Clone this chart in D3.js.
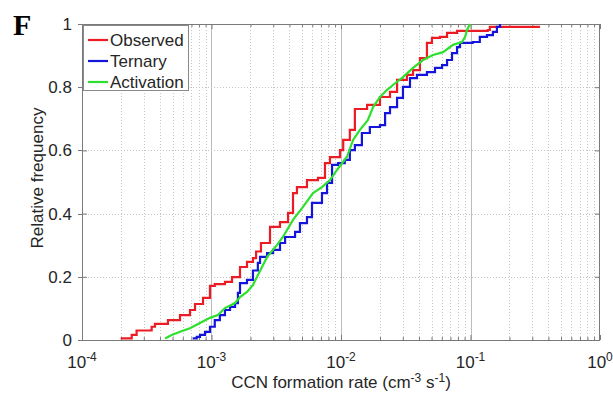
<!DOCTYPE html>
<html>
<head>
<meta charset="utf-8">
<script src="https://cdn.jsdelivr.net/npm/d3@7"></script>
<style>
  body { margin: 0; background: #fff; }
  svg { display: block; }
  text { font-family: Arial, "Liberation Sans", sans-serif; }
</style>
</head>
<body>
<svg id="chart" width="613" height="396"></svg>
<script>
// Empirical cumulative distributions of CCN formation rate (cm^-3 s^-1)
const seriesNames = ["Observed", "Ternary", "Activation"];

const observedRate = [1.99e-4, 2.42e-4, 2.64e-4, 3.45e-4, 3.66e-4, 4.61e-4, 5.71e-4, 6.82e-4, 7.46e-4, 8.60e-4,
  9.73e-4, 1.06e-3, 1.27e-3, 1.44e-3, 1.66e-3, 1.88e-3, 2.09e-3, 2.21e-3, 2.41e-3, 2.83e-3,
  3.38e-3, 3.90e-3, 4.26e-3, 4.57e-3, 5.46e-3, 6.64e-3, 7.52e-3, 8.22e-3, 9.82e-3, 1.04e-2,
  1.17e-2, 1.28e-2, 1.59e-2, 2.00e-2, 2.39e-2, 2.71e-2, 3.23e-2, 3.60e-2, 4.07e-2, 4.61e-2,
  5.04e-2, 5.81e-2, 6.59e-2, 7.87e-2, 0.136, 0.141, 0.344];
const observedFreq = [0.005, 0.016, 0.030, 0.042, 0.051, 0.063, 0.079, 0.095, 0.114, 0.133,
  0.171, 0.177, 0.184, 0.199, 0.231, 0.247, 0.259, 0.280, 0.307, 0.358,
  0.373, 0.402, 0.465, 0.484, 0.506, 0.513, 0.560, 0.579, 0.601, 0.633,
  0.665, 0.731, 0.744, 0.769, 0.785, 0.823, 0.839, 0.854, 0.892, 0.940,
  0.956, 0.959, 0.972, 0.978, 0.981, 0.991, 0.991];

const ternaryRate = [7.19e-4, 7.69e-4, 8.15e-4, 8.91e-4, 9.73e-4, 1.06e-3, 1.16e-3, 1.27e-3, 1.39e-3, 1.52e-3,
  1.60e-3, 1.66e-3, 1.88e-3, 2.09e-3, 2.28e-3, 2.37e-3, 2.69e-3, 2.99e-3, 3.38e-3, 3.70e-3,
  4.42e-3, 4.82e-3, 5.46e-3, 5.97e-3, 7.13e-3, 7.80e-3, 8.53e-3, 9.49e-3, 1.07e-2, 1.17e-2,
  1.28e-2, 1.45e-2, 1.67e-2, 2.00e-2, 2.19e-2, 2.39e-2, 2.71e-2, 3.01e-2, 3.41e-2, 3.86e-2,
  4.61e-2, 5.32e-2, 6.03e-2, 6.59e-2, 7.20e-2, 7.87e-2, 8.30e-2, 0.104, 0.118, 0.134,
  0.149, 0.160, 0.169];
const ternaryFreq = [0.005, 0.010, 0.016, 0.026, 0.042, 0.063, 0.079, 0.095, 0.105, 0.117,
  0.149, 0.180, 0.190, 0.220, 0.244, 0.263, 0.275, 0.285, 0.307, 0.326,
  0.342, 0.370, 0.389, 0.434, 0.465, 0.497, 0.554, 0.560, 0.570, 0.601,
  0.617, 0.655, 0.674, 0.680, 0.718, 0.737, 0.766, 0.801, 0.829, 0.839,
  0.848, 0.861, 0.870, 0.886, 0.908, 0.927, 0.940, 0.943, 0.959, 0.965,
  0.975, 0.991, 1.000];

const activationRate = [4.38e-4, 4.93e-4, 5.71e-4, 6.82e-4, 8.15e-4, 9.73e-4, 1.12e-3, 1.27e-3, 1.52e-3, 1.66e-3,
  1.88e-3, 2.09e-3, 2.24e-3, 2.45e-3, 2.69e-3, 3.21e-3, 3.56e-3, 4.26e-3, 5.09e-3, 6.08e-3,
  7.13e-3, 8.22e-3, 9.31e-3, 1.11e-2, 1.24e-2, 1.40e-2, 1.61e-2, 1.77e-2, 2.00e-2, 2.26e-2,
  2.52e-2, 3.01e-2, 3.60e-2, 4.30e-2, 5.13e-2, 6.14e-2, 7.33e-2, 8.59e-2, 9.08e-2, 9.40e-2,
  9.91e-2];
const activationFreq = [0.005, 0.016, 0.026, 0.037, 0.054, 0.070, 0.079, 0.101, 0.117, 0.136,
  0.152, 0.174, 0.199, 0.230, 0.263, 0.301, 0.326, 0.380, 0.421, 0.465,
  0.484, 0.506, 0.538, 0.579, 0.633, 0.665, 0.696, 0.737, 0.769, 0.791,
  0.807, 0.832, 0.861, 0.886, 0.902, 0.911, 0.934, 0.943, 0.959, 0.981,
  1.000];

const seriesColors = ["#ec1c24", "#1414dc", "#2ee02e"];
const xTickExponents = [-4, -3, -2, -1, 0];
const yTicks = [0, 0.2, 0.4, 0.6, 0.8, 1];

// the modelled activation curve is finely resolved, so it is drawn as a polyline
const series = [
  { name: seriesNames[0], rate: observedRate, freq: observedFreq, color: seriesColors[0], curve: d3.curveStepAfter },
  { name: seriesNames[1], rate: ternaryRate, freq: ternaryFreq, color: seriesColors[1], curve: d3.curveStepAfter },
  { name: seriesNames[2], rate: activationRate, freq: activationFreq, color: seriesColors[2], curve: d3.curveLinear }
];

const svg = d3.select("#chart");
const L = 82, R = 600, T = 24, B = 340;
const fontSize = "17px";
const supSize = "12px";

const x = d3.scaleLog().domain([1e-4, 1]).range([L, R]);
const y = d3.scaleLinear().domain([0, 1]).range([B, T]);

const majorX = xTickExponents.map(e => Math.pow(10, e));
const minorX = [];
xTickExponents.slice(0, -1).forEach(e => {
  for (let k = 2; k <= 9; k++) minorX.push(k * Math.pow(10, e));
});

// grid lines
const grid = svg.append("g");
grid.selectAll("line.gx").data(minorX).join("line")
  .attr("x1", d => Math.round(x(d)) + 0.5).attr("x2", d => Math.round(x(d)) + 0.5)
  .attr("y1", T).attr("y2", B)
  .attr("stroke", "#c4c4c4").attr("stroke-width", 1).attr("stroke-dasharray", "1,2");
grid.selectAll("line.gX").data(majorX.slice(1, -1)).join("line")
  .attr("x1", d => Math.round(x(d)) + 0.5).attr("x2", d => Math.round(x(d)) + 0.5)
  .attr("y1", T).attr("y2", B)
  .attr("stroke", "#bcbcbc").attr("stroke-width", 1);
grid.selectAll("line.gy").data(yTicks.slice(1, -1)).join("line")
  .attr("x1", L).attr("x2", R)
  .attr("y1", d => Math.round(y(d)) + 0.5).attr("y2", d => Math.round(y(d)) + 0.5)
  .attr("stroke", "#c4c4c4").attr("stroke-width", 1).attr("stroke-dasharray", "1,2");

// axes (ticks pointing inward, box on all sides)
const axisColor = "#7a7a7a";
const textColor = "#262626";

function styleAxis(g) {
  g.select(".domain").remove();
  g.selectAll(".tick line").attr("stroke", axisColor);
  g.selectAll(".tick text").attr("fill", textColor).style("font-size", fontSize);
}

const xAxisB = d3.axisBottom(x).tickValues(majorX).tickSizeInner(-5).tickSizeOuter(0).tickFormat(() => "");
const xAxisT = d3.axisTop(x).tickValues(majorX).tickSizeInner(-5).tickSizeOuter(0).tickFormat(() => "");
const xMinorB = d3.axisBottom(x).tickValues(minorX).tickSizeInner(-3).tickSizeOuter(0).tickFormat(() => "");
const xMinorT = d3.axisTop(x).tickValues(minorX).tickSizeInner(-3).tickSizeOuter(0).tickFormat(() => "");
svg.append("g").attr("transform", `translate(0,${B})`).call(xAxisB).call(styleAxis);
svg.append("g").attr("transform", `translate(0,${T})`).call(xAxisT).call(styleAxis);
svg.append("g").attr("transform", `translate(0,${B})`).call(xMinorB).call(styleAxis);
svg.append("g").attr("transform", `translate(0,${T})`).call(xMinorT).call(styleAxis);

const yAxisL = d3.axisLeft(y).tickValues(yTicks).tickSizeInner(-5).tickSizeOuter(0)
  .tickPadding(10).tickFormat(d => d3.format("~g")(d));
const yAxisR = d3.axisRight(y).tickValues(yTicks).tickSizeInner(-5).tickSizeOuter(0).tickFormat(() => "");
svg.append("g").attr("transform", `translate(${L},0)`).call(yAxisL).call(styleAxis);
svg.append("g").attr("transform", `translate(${R},0)`).call(yAxisR).call(styleAxis);

// short outer ticks beside the left labels
svg.append("g").selectAll("line").data(yTicks).join("line")
  .attr("x1", L - 4).attr("x2", L)
  .attr("y1", d => Math.round(y(d)) + 0.5).attr("y2", d => Math.round(y(d)) + 0.5)
  .attr("stroke", axisColor);

// x tick labels as powers of ten
const xLab = svg.append("g");
xTickExponents.forEach(e => {
  const t = xLab.append("text")
    .attr("x", x(Math.pow(10, e)))
    .attr("y", 368)
    .attr("text-anchor", "middle")
    .attr("fill", textColor)
    .style("font-size", fontSize);
  t.append("tspan").text("10");
  t.append("tspan").attr("dy", -7).style("font-size", supSize).text(String(e));
});

// box
svg.append("rect").attr("x", L + 0.5).attr("y", T + 0.5)
  .attr("width", R - L - 1).attr("height", B - T)
  .attr("fill", "none").attr("stroke", axisColor).attr("stroke-width", 1);

// CDF curves
svg.append("g").selectAll("path").data(series).join("path")
  .attr("d", s => d3.line()
    .x(d => x(d[0]))
    .y(d => y(d[1]))
    .curve(s.curve)(s.rate.map((r, i) => [r, s.freq[i]])))
  .attr("fill", "none")
  .attr("stroke", s => s.color)
  .attr("stroke-width", 2.2)
  .attr("stroke-linejoin", "miter");

// legend
const lg = svg.append("g");
lg.append("rect").attr("x", 83.5).attr("y", 25.5).attr("width", 105).attr("height", 65)
  .attr("fill", "#fff").attr("stroke", "#8a8a8a").attr("stroke-width", 1);
series.forEach((s, i) => {
  const cy = 40 + i * 21;
  lg.append("line").attr("x1", 88).attr("x2", 108).attr("y1", cy).attr("y2", cy)
    .attr("stroke", s.color).attr("stroke-width", 2.2);
  lg.append("text").attr("x", 110).attr("y", cy + 6)
    .attr("fill", textColor).style("font-size", fontSize).text(s.name);
});

// axis titles
const xt = svg.append("text").attr("x", 341).attr("y", 388).attr("text-anchor", "middle")
  .attr("fill", textColor).style("font-size", fontSize);
xt.append("tspan").text("CCN formation rate (cm");
xt.append("tspan").attr("dy", -6).style("font-size", supSize).text("-3");
xt.append("tspan").attr("dy", 6).text(" s");
xt.append("tspan").attr("dy", -6).style("font-size", supSize).text("-1");
xt.append("tspan").attr("dy", 6).text(")");

svg.append("text").attr("transform", "translate(43,178) rotate(-90)")
  .attr("text-anchor", "middle").attr("fill", textColor).style("font-size", fontSize)
  .text("Relative frequency");

// panel letter
svg.append("text").attr("x", 13).attr("y", 35)
  .style("font-family", "'Liberation Serif', 'Times New Roman', serif")
  .style("font-weight", "bold").style("font-size", "30px").attr("fill", "#000")
  .text("F");
</script>
</body>
</html>
